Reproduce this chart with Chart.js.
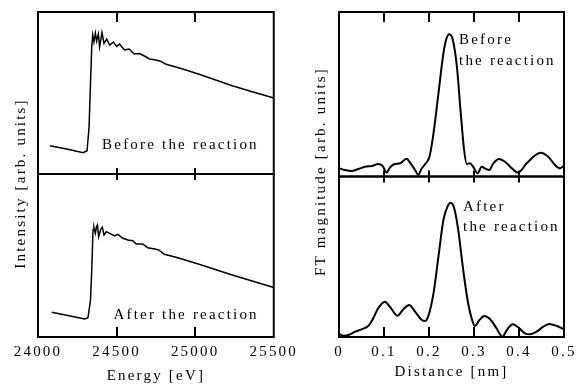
<!DOCTYPE html>
<html lang="en">
<head>
<meta charset="UTF-8">
<title>XANES and FT before / after the reaction</title>
<style>
    html, body { margin: 0; padding: 0; background: #fff; }
    body { width: 577px; height: 387px; position: relative; overflow: hidden; }
    canvas { position: absolute; top: 0; }
    #left { left: 0; }
    #right { left: 300px; }
</style>
</head>
<body>
<canvas id="left" width="304" height="387"></canvas>
<canvas id="right" width="285" height="387"></canvas>

<script src="https://cdn.jsdelivr.net/npm/chart.js@4/dist/chart.umd.min.js"></script>
<script>
    // left column: absorption spectra (arb. units)
    const energyBefore = [24076, 24182, 24287, 24312, 24325, 24334, 24342, 24348, 24356, 24365, 24373, 24384, 24392, 24407, 24420, 24437, 24456, 24480, 24500, 24519, 24550, 24580, 24612, 24646, 24677, 24709, 24751, 24783, 24815, 24878, 24941, 25025, 25131, 25236, 25363, 25500];
    const intensityBefore = [28.3, 25, 21.3, 23.3, 47, 91, 127, 139, 132, 141, 133, 140, 127, 141.5, 130.5, 135, 129, 132, 127.5, 130, 124, 125, 120, 120.5, 118, 115, 114, 112.5, 109.7, 107, 104, 99.7, 94, 88.3, 82.3, 76];

    const energyAfter = [24087, 24182, 24297, 24318, 24334, 24342, 24350, 24356, 24365, 24372, 24378, 24386, 24399, 24409, 24420, 24435, 24456, 24487, 24508, 24540, 24572, 24603, 24625, 24666, 24698, 24751, 24768, 24804, 24878, 25025, 25236, 25500];
    const intensityAfter = [24.7, 21.7, 18, 19.3, 37, 67, 107, 109.7, 103.7, 110.3, 112, 100.3, 107.7, 109.7, 102, 105.3, 103.7, 101, 102.7, 98.7, 97, 96.3, 93, 93, 89.3, 87.7, 87, 82.7, 79.7, 72.7, 62, 49.5];

    // right column: FT magnitude (arb. units)
    const distBefore = [0, 0.013, 0.028, 0.043, 0.058, 0.073, 0.087, 0.097, 0.106, 0.113, 0.124, 0.136, 0.150, 0.159, 0.169, 0.176, 0.184, 0.193, 0.201, 0.210, 0.221, 0.232, 0.239, 0.245, 0.253, 0.262, 0.270, 0.278, 0.284, 0.291, 0.298, 0.308, 0.317, 0.324, 0.334, 0.343, 0.356, 0.369, 0.384, 0.398, 0.417, 0.448, 0.465, 0.480, 0.491, 0.5];
    const ftBefore = [8.2, 6.5, 5.5, 7.5, 9.8, 10.5, 12.5, 10.5, 3.8, 8.8, 12.5, 13.2, 17.8, 13.2, 6.5, 1.8, 8.2, 13.2, 19.8, 43.2, 83.2, 123.2, 138.2, 142.2, 136.5, 109.8, 66.5, 26.5, 12.5, 13.2, 9.8, 3.2, 9.8, 8.2, 6.5, 13.2, 17.5, 14.8, 8.2, 3.8, 13.2, 23.8, 19.8, 11.5, 8.2, 10.8];

    const distAfter = [0, 0.010, 0.021, 0.036, 0.050, 0.065, 0.076, 0.087, 0.102, 0.113, 0.130, 0.143, 0.156, 0.169, 0.184, 0.191, 0.198, 0.210, 0.221, 0.232, 0.241, 0.248, 0.256, 0.265, 0.276, 0.287, 0.297, 0.302, 0.312, 0.323, 0.336, 0.350, 0.363, 0.373, 0.386, 0.398, 0.413, 0.424, 0.439, 0.454, 0.467, 0.484, 0.5];
    const ftAfter = [3, 1.3, 2, 5.3, 7.7, 11, 18.7, 28.7, 35.3, 30.3, 21.3, 27.7, 32, 25.3, 17, 16, 20.3, 43.7, 80.3, 117, 130.3, 134.3, 128.7, 107, 67, 33.7, 15.3, 11, 17, 21, 17.7, 8.7, 0.3, 7, 12.7, 9.7, 3.7, 2.7, 5.3, 10.3, 13, 11, 7.7];

    const FAMILY = '"Liberation Serif", "DejaVu Serif", serif';
    const font = { family: FAMILY, size: 15 };

    const pts = (xs, ys) => xs.map((x, i) => ({ x: x, y: ys[i] }));

    // the printed text is spaced out a bit
    const spacing = {
        id: 'spacing',
        beforeLayout(chart) { chart.ctx.letterSpacing = '2.2px'; },
        beforeDraw(chart) { chart.ctx.letterSpacing = '2.2px'; }
    };

    // box around each panel + inward ticks
    const frame = {
        id: 'frame',
        afterDatasetsDraw(chart, args, opts) {
            const { ctx, chartArea: a, scales } = chart;
            const x = scales.x;
            const panels = opts.panels.map(id => scales[id]);
            ctx.save();
            ctx.strokeStyle = '#000';
            ctx.lineWidth = 2;
            panels.forEach((s, i) => {
                ctx.strokeRect(a.left, s.top, a.right - a.left, s.bottom - s.top);
                const topLen = i === 0 ? 10 : 6;
                const botLen = i === panels.length - 1 ? 10 : 6;
                x.ticks.forEach(t => {
                    if (t.value <= x.min + 1e-9 || t.value >= x.max - 1e-9) return;
                    const px = Math.round(x.getPixelForValue(t.value));
                    ctx.beginPath();
                    ctx.moveTo(px, s.top);
                    ctx.lineTo(px, s.top + topLen);
                    ctx.moveTo(px, s.bottom);
                    ctx.lineTo(px, s.bottom - botLen);
                    ctx.stroke();
                });
            });
            ctx.restore();
        }
    };

    // "Before / After the reaction" notes
    const notes = {
        id: 'notes',
        afterDatasetsDraw(chart, args, opts) {
            const { ctx, scales } = chart;
            ctx.save();
            ctx.font = '15px ' + FAMILY;
            ctx.fillStyle = '#000';
            ctx.textBaseline = 'middle';
            opts.items.forEach(it => {
                ctx.textAlign = it.align;
                const px = scales.x.getPixelForValue(it.x);
                it.lines.forEach((txt, k) => {
                    ctx.fillText(txt, px, scales[it.scale].getPixelForValue(it.y[k]));
                });
            });
            ctx.restore();
        }
    };

    const noAxis = { ticks: { display: false }, grid: { display: false, drawTicks: false }, border: { display: false } };

    function makeChart(el, cfg) {
        const line = { borderColor: '#000', borderWidth: cfg.lineWidth, pointRadius: 0, fill: false, tension: cfg.tension, cubicInterpolationMode: cfg.mode };
        return new Chart(el, {
            type: 'line',
            data: {
                datasets: [
                    Object.assign({ data: cfg.top, yAxisID: 'yTop' }, line),
                    Object.assign({ data: cfg.bottom, yAxisID: 'yBot' }, line)
                ]
            },
            options: {
                responsive: false,
                animation: false,
                devicePixelRatio: 1,
                layout: { padding: { top: 12, right: cfg.padRight, left: 0, bottom: 0 } },
                plugins: {
                    legend: { display: false },
                    tooltip: { enabled: false },
                    frame: { panels: ['yTop', 'yBot'] },
                    notes: { items: cfg.notes }
                },
                scales: {
                    x: {
                        type: 'linear', position: 'bottom',
                        min: cfg.xMin, max: cfg.xMax,
                        ticks: { stepSize: cfg.step, padding: 6, color: '#000', font: font, maxRotation: 0, autoSkip: false, callback: cfg.fmt },
                        grid: { display: false, drawTicks: false },
                        border: { display: false },
                        title: { display: true, text: cfg.xTitle, color: '#000', font: font, padding: { top: 0, bottom: cfg.xTitlePad } },
                        afterFit: s => { s.height = 50; }
                    },
                    yTitle: Object.assign({}, noAxis, {
                        type: 'linear', position: 'left', weight: 10,
                        title: { display: true, text: cfg.yTitle, color: '#000', font: font, padding: { top: 12, bottom: 0 } },
                        afterFit: s => { s.width = cfg.areaLeft; }
                    }),
                    yTop: Object.assign({}, noAxis, {
                        type: 'linear', position: 'left', stack: 'panels', stackWeight: cfg.topMax, weight: 1,
                        min: 0, max: cfg.topMax,
                        afterFit: s => { s.width = 0; }
                    }),
                    yBot: Object.assign({}, noAxis, {
                        type: 'linear', position: 'left', stack: 'panels', stackWeight: cfg.botMax, weight: 0,
                        min: 0, max: cfg.botMax,
                        afterFit: s => { s.width = 0; }
                    })
                }
            },
            plugins: [spacing, frame, notes]
        });
    }

    makeChart(document.getElementById('left'), {
        top: pts(energyBefore, intensityBefore),
        bottom: pts(energyAfter, intensityAfter),
        lineWidth: 1.5, tension: 0, mode: 'default',
        xMin: 24000, xMax: 25500, step: 500,
        fmt: v => String(v),
        xTitle: 'Energy [eV]', xTitlePad: 2,
        // trailing spaces nudge the rotated title down a little, as printed
        yTitle: 'Intensity [arb. units]   ',
        areaLeft: 38, padRight: 29,
        topMax: 162, botMax: 163,
        notes: [
            { scale: 'yTop', x: 25405, y: [29], lines: ['Before the reaction'], align: 'right' },
            { scale: 'yBot', x: 25405, y: [22], lines: ['After the reaction'], align: 'right' }
        ]
    });

    makeChart(document.getElementById('right'), {
        top: pts(distBefore, ftBefore),
        bottom: pts(distAfter, ftAfter),
        lineWidth: 2, tension: 0.4, mode: 'monotone',
        xMin: 0, xMax: 0.5, step: 0.1,
        fmt: v => String(Math.round(v * 10) / 10),
        xTitle: 'Distance [nm]', xTitlePad: 6,
        yTitle: ' FT magnitude [arb. units]',
        areaLeft: 39, padRight: 21,
        topMax: 164.5, botMax: 160.5,
        notes: [
            { scale: 'yTop', x: 0.2667, y: [136.5, 115.5], lines: ['Before', 'the reaction'], align: 'left' },
            { scale: 'yBot', x: 0.2756, y: [130, 110], lines: ['After', 'the reaction'], align: 'left' }
        ]
    });
</script>
</body>
</html>
